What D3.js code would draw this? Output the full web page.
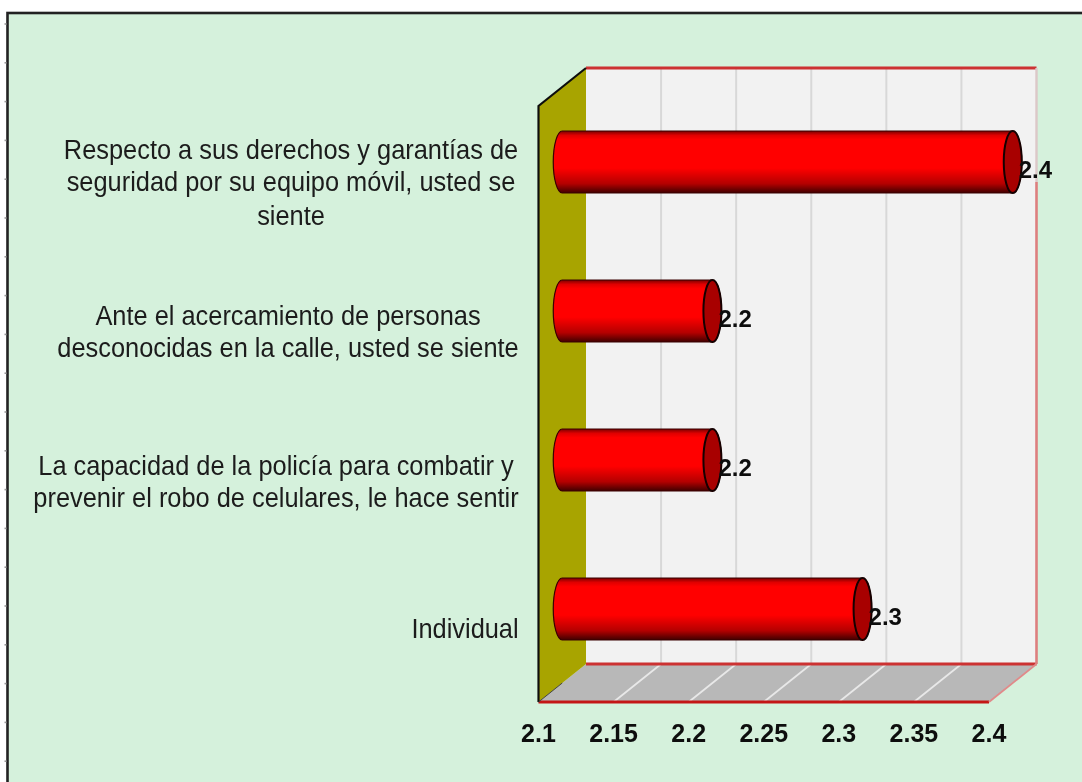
<!DOCTYPE html>
<html><head><meta charset="utf-8">
<script src="https://cdn.jsdelivr.net/npm/d3@7/dist/d3.min.js"></script>
<style>html,body{margin:0;padding:0;background:#fff}svg{display:block}</style>
</head><body><div id="c"></div>
<script>
const categories = [
  ["Respecto a sus derechos y garantías de","seguridad por su equipo móvil, usted se","siente"],
  ["Ante el acercamiento de personas","desconocidas en la calle, usted se siente"],
  ["La capacidad de la policía para combatir y","prevenir el robo de celulares, le hace sentir"],
  ["Individual"]
];
const values = [2.4, 2.2, 2.2, 2.3];
const valueLabels = ["2.4","2.2","2.2","2.3"];
const tickValues = [2.1,2.15,2.2,2.25,2.3,2.35,2.4];
const tickLabels = ["2.1","2.15","2.2","2.25","2.3","2.35","2.4"];

const W=1082,H=782;
const frontL=538.5,frontR=989,frontT=106,frontB=702;
const dx=47.5,dy=38;
const x=d3.scaleLinear().domain([2.1,2.4]).range([frontL,frontR]);
const y=d3.scaleBand().domain(d3.range(categories.length)).range([frontT,frontB]).paddingInner(0);
const svg=d3.select("#c").append("svg").attr("width",W).attr("height",H);
const defs=svg.append("defs");
const f=defs.append("filter").attr("id","soft").attr("filterUnits","userSpaceOnUse").attr("x",0).attr("y",0).attr("width",W).attr("height",H);
f.append("feGaussianBlur").attr("stdDeviation",0.7);
const g0=defs.append("linearGradient").attr("id","cyl").attr("x1",0).attr("y1",0).attr("x2",0).attr("y2",1);
[[0,"#7a0000"],[0.07,"#e00000"],[0.14,"#ff0000"],[0.6,"#ff0000"],[0.85,"#b40000"],[1,"#400000"]].forEach(s=>g0.append("stop").attr("offset",s[0]).attr("stop-color",s[1]));

const root=svg.append("g").attr("filter","url(#soft)");
// panel
root.append("rect").attr("x",7.5).attr("y",13).attr("width",W).attr("height",H).attr("fill","#d5f1dc").attr("stroke","#222").attr("stroke-width",2.6);
root.selectAll("line.edge").data(d3.range(24,782,38.8)).join("line").attr("class","edge")
  .attr("x1",4.5).attr("x2",6.5).attr("y1",d=>d).attr("y2",d=>d).attr("stroke","#999").attr("stroke-width",1.6);

const pts=a=>a.map(p=>p.join(",")).join(" ");
// back wall
root.append("rect").attr("x",frontL+dx).attr("y",frontT-dy).attr("width",frontR-frontL).attr("height",frontB-frontT).attr("fill","#f2f2f2");
// floor
root.append("polygon").attr("points",pts([[frontL,frontB],[frontR,frontB],[frontR+dx,frontB-dy],[frontL+dx,frontB-dy]])).attr("fill","#b8b8b8");
// left wall
root.append("polygon").attr("points",pts([[frontL,frontT],[frontL+dx,frontT-dy],[frontL+dx,frontB-dy],[frontL,frontB]])).attr("fill","#a8a400");
// gridlines
root.selectAll("line.g").data(tickValues.slice(1,-1)).join("line").attr("class","g")
  .attr("x1",d=>x(d)+dx).attr("x2",d=>x(d)+dx).attr("y1",frontT-dy).attr("y2",frontB-dy).attr("stroke","#d8d8d8").attr("stroke-width",2);
root.selectAll("line.f").data(tickValues.slice(1,-1)).join("line").attr("class","f")
  .attr("x1",d=>x(d)).attr("x2",d=>x(d)+dx).attr("y1",frontB).attr("y2",frontB-dy).attr("stroke","#e8e8e8").attr("stroke-width",1.8);
// red frame
const red="#cc3030";
[[[frontL+dx,frontT-dy],[frontR+dx,frontT-dy]],[[frontL+dx,frontB-dy],[frontR+dx,frontB-dy]]].forEach(l=>root.append("line").attr("x1",l[0][0]).attr("y1",l[0][1]).attr("x2",l[1][0]).attr("y2",l[1][1]).attr("stroke",red).attr("stroke-width",2.8));
root.append("line").attr("x1",frontR+dx).attr("x2",frontR+dx).attr("y1",frontT-dy).attr("y2",frontT+dy*2).attr("stroke","#dcc8c8").attr("stroke-width",2.4);
root.append("line").attr("x1",frontR+dx).attr("x2",frontR+dx).attr("y1",frontT+dy*2).attr("y2",frontB-dy).attr("stroke","#dd7f7f").attr("stroke-width",2.6);
root.append("line").attr("x1",frontL).attr("x2",frontR).attr("y1",frontB).attr("y2",frontB).attr("stroke","#c41818").attr("stroke-width",3);
root.append("line").attr("x1",frontR).attr("x2",frontR+dx).attr("y1",frontB).attr("y2",frontB-dy).attr("stroke","#e08a8a").attr("stroke-width",1.8);
// black left edges
root.append("polyline").attr("points",pts([[frontL+dx,frontT-dy],[frontL,frontT],[frontL,frontB]])).attr("fill","none").attr("stroke","#111").attr("stroke-width",2.2);
root.append("line").attr("x1",frontL).attr("y1",frontB).attr("x2",frontL+dx*0.5).attr("y2",frontB-dy*0.5).attr("stroke","#444").attr("stroke-width",1);

// bars
const barOff=dx/2, barH=62, rx=9, ry=31;
const bar=root.selectAll("g.bar").data(values).join("g").attr("class","bar")
  .attr("transform",(d,i)=>`translate(0,${y(i)+y.bandwidth()/2-19-barH/2+0.5})`);
bar.append("path").attr("d",d=>{
  const a=x(2.1)+barOff, b=x(d)+barOff;
  return `M${a},0 L${b},0 A${rx},${ry} 0 0 1 ${b},${barH} L${a},${barH} A${rx},${ry} 0 0 1 ${a},0 Z`;
}).attr("fill","url(#cyl)").attr("stroke","#3a0000").attr("stroke-width",1.2);
bar.append("ellipse").attr("cx",d=>x(d)+barOff).attr("cy",barH/2).attr("rx",rx).attr("ry",ry)
  .attr("fill","#a80000").attr("stroke","#150000").attr("stroke-width",2);
bar.append("text").attr("x",d=>x(d)+barOff+6).attr("y",barH/2+16)
  .text((d,i)=>valueLabels[i]).attr("font-family","Liberation Sans").attr("font-weight","bold").attr("font-size",24).attr("fill","#111");

// category labels
const labCx=[291,288,276,465];
const labFirst=[159,325,475,638];
const lineH=32;
root.selectAll("g.cat").data(categories).join("g").attr("class","cat").each(function(d,i){
  d3.select(this).selectAll("text").data(d).join("text")
    .attr("transform",(t,j)=>`translate(${labCx[i]},${labFirst[i]+j*lineH+(j===2?2:0)}) scale(1,1.09)`)
    .attr("text-anchor","middle").attr("font-family","Liberation Sans").attr("font-size",25.4).attr("fill","#1c1c1c").text(t=>t);
});
// axis ticks
root.selectAll("text.tick").data(tickValues).join("text").attr("class","tick")
  .attr("x",d=>x(d)).attr("y",742).attr("text-anchor","middle").text((d,i)=>tickLabels[i])
  .attr("font-family","Liberation Sans").attr("font-weight","bold").attr("font-size",25).attr("fill","#111");
</script></body></html>
